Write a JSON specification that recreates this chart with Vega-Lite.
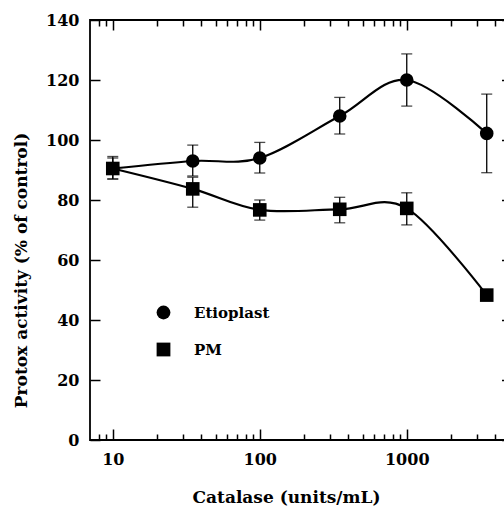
{
  "$schema": "https://vega.github.io/schema/vega-lite/v6.json",
  "width": 419.5,
  "height": 420,
  "autosize": {"type": "none"},
  "padding": {"left": 90, "top": 20, "right": 0, "bottom": 67},
  "background": "white",
  "config": {
    "view": {"stroke": "black", "strokeWidth": 1.8},
    "font": "DejaVu Serif",
    "axis": {
      "labelFont": "DejaVu Serif", "labelFontWeight": "bold", "labelFontSize": 16, "labelColor": "black",
      "titleFont": "DejaVu Serif", "titleFontWeight": "bold", "titleFontSize": 17, "titleColor": "black",
      "tickColor": "black", "tickWidth": 1.5, "domain": false, "grid": false
    },
    "legend": {
      "orient": "none", "legendX": 66, "legendY": 285, "padding": 0,
      "symbolSize": 190, "symbolFillColor": "black", "symbolStrokeColor": "black", "symbolStrokeWidth": 0,
      "labelFont": "DejaVu Serif", "labelFontSize": 15, "labelFontWeight": "bold", "labelColor": "black",
      "labelOffset": 23, "rowPadding": 21
    }
  },
  "data": {"values": [
    {"series": "Etioplast", "x": 10, "y": 90.5, "lo": 87, "hi": 94.5},
    {"series": "Etioplast", "x": 35, "y": 93, "lo": 88, "hi": 98.3},
    {"series": "Etioplast", "x": 100, "y": 94, "lo": 89, "hi": 99.2},
    {"series": "Etioplast", "x": 350, "y": 108, "lo": 102, "hi": 114.2},
    {"series": "Etioplast", "x": 1000, "y": 120, "lo": 111.3, "hi": 128.7},
    {"series": "Etioplast", "x": 3500, "y": 102.2, "lo": 89.1, "hi": 115.3},
    {"series": "PM", "x": 10, "y": 90.5, "lo": 87, "hi": 94},
    {"series": "PM", "x": 35, "y": 83.7, "lo": 77.6, "hi": 87.6},
    {"series": "PM", "x": 100, "y": 76.7, "lo": 73.3, "hi": 80},
    {"series": "PM", "x": 350, "y": 76.9, "lo": 72.4, "hi": 80.9},
    {"series": "PM", "x": 1000, "y": 77.2, "lo": 71.7, "hi": 82.4},
    {"series": "PM", "x": 3500, "y": 48.3, "lo": 47.5, "hi": 49.1}
  ]},
  "resolve": {"axis": {"x": "independent", "y": "independent"}},
  "layer": [
    {
      "mark": {"type": "rule", "color": "black", "strokeWidth": 1.3},
      "encoding": {
        "x": {"field": "x", "type": "quantitative",
              "scale": {"type": "log", "domain": [7, 5000], "nice": false},
              "axis": {"orient": "bottom", "values": [8, 9, 20, 30, 40, 50, 60, 70, 80, 90, 200, 300, 400, 500, 600, 700, 800, 900, 2000, 3000, 4000, 5000], "tickSize": -6, "labels": false, "title": null}},
        "y": {"field": "lo", "type": "quantitative",
              "scale": {"domain": [0, 140], "nice": false},
              "axis": {"orient": "right", "values": [0, 20, 40, 60, 80, 100, 120, 140], "tickSize": -8, "labels": false, "title": null}},
        "y2": {"field": "hi"}
      }
    },
    {
      "mark": {"type": "tick", "color": "black", "orient": "horizontal", "size": 11, "thickness": 1.3},
      "encoding": {
        "x": {"field": "x", "type": "quantitative",
              "axis": {"orient": "top", "values": [10, 100, 1000], "tickSize": -10, "labels": false, "title": null}},
        "y": {"field": "hi", "type": "quantitative", "axis": null}
      }
    },
    {
      "mark": {"type": "tick", "color": "black", "orient": "horizontal", "size": 11, "thickness": 1.3},
      "encoding": {
        "x": {"field": "x", "type": "quantitative",
              "axis": {"orient": "top", "values": [8, 9, 20, 30, 40, 50, 60, 70, 80, 90, 200, 300, 400, 500, 600, 700, 800, 900, 2000, 3000, 4000, 5000], "tickSize": -6, "labels": false, "title": null}},
        "y": {"field": "lo", "type": "quantitative", "axis": null}
      }
    },
    {
      "mark": {"type": "line", "color": "black", "strokeWidth": 2.2, "interpolate": "cardinal"},
      "encoding": {
        "x": {"field": "x", "type": "quantitative",
              "axis": {"orient": "bottom", "values": [10, 100, 1000], "tickSize": -11, "labelPadding": 22, "format": "d",
                       "title": "Catalase (units/mL)", "titleX": 196, "titleY": 62, "titleBaseline": "alphabetic", "titleAnchor": "middle", "titleAlign": "center"}},
        "y": {"field": "y", "type": "quantitative",
              "axis": {"orient": "left", "values": [0, 20, 40, 60, 80, 100, 120, 140], "tickSize": -10, "labelPadding": 21,
                       "title": "Protox activity (% of control)", "titleX": -69, "titleY": 250, "titleAlign": "center", "titleBaseline": "middle", "titleAngle": -90}},
        "detail": {"field": "series"}
      }
    },
    {
      "mark": {"type": "point", "filled": true, "color": "black", "size": 185, "opacity": 1},
      "encoding": {
        "x": {"field": "x", "type": "quantitative", "axis": null},
        "y": {"field": "y", "type": "quantitative", "axis": null},
        "shape": {"field": "series", "type": "nominal",
                  "scale": {"domain": ["Etioplast", "PM"], "range": ["circle", "square"]},
                  "legend": {"title": null}}
      }
    }
  ]
}
